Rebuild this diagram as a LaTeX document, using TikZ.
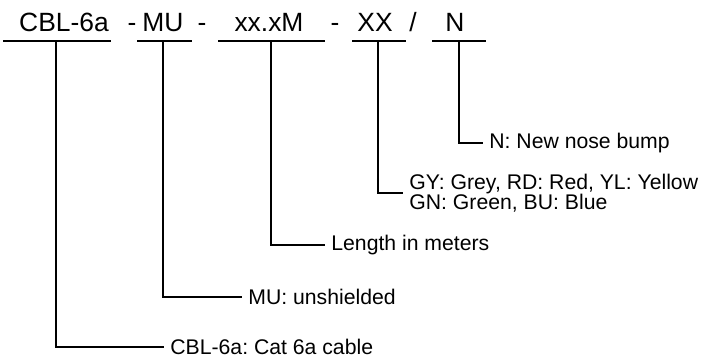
\documentclass[tikz,border=0pt]{standalone}
\usepackage{fontspec}
\setmainfont{Liberation Sans}
\usetikzlibrary{positioning}
\frenchspacing
\tikzset{
  part/.style={anchor=base,inner sep=0pt,font=\fontsize{13.2}{15}\selectfont},
  desc/.style={anchor=west,align=left,inner xsep=3pt,inner ysep=0pt,font=\fontsize{10.6}{10}\selectfont},
  uline/.style={line width=1pt},
  lead/.style={line width=1pt},
}
\begin{document}
\begin{tikzpicture}[x=0.5pt,y=-0.5pt]
\useasboundingbox (0,0) rectangle (702,358);
% code parts with underline and leader
\foreach \n/\t/\a/\b/\v/\c in {cbl/CBL-6a/3/111/56/64,mu/MU/137/192/163/163,len/xx.xM/218/325/271/269,col/XX/352/406/378/375,nose/N/432/486/459/455} {\node[part] (t\n) at (\c,32) {\t}; \draw[uline] (\a,41) -- (\b,41); \coordinate (u\n) at (\v,41);}
\foreach \s/\x in {1/132,2/202,3/335} {\node[part] (s\s) at (\x,32) {-};}
\node[part] (s4) at (413,32) {/};
% descriptions
\node[desc] (dnose) at (483,143) {N: New nose bump};
\node[desc] (dcol) at (403,193) {GY: Grey, RD: Red, YL: Yellow\\GN: Green, BU: Blue};
\node[desc] (dlen) at (325,245) {Length in meters};
\node[desc] (dmu) at (242,297) {MU: unshielded};
\node[desc] (dcbl) at (164,347) {CBL-6a: Cat 6a cable};
\foreach \n in {cbl,mu,len,col,nose} {\draw[lead] (u\n) |- (d\n.west);}
\end{tikzpicture}
\end{document}
